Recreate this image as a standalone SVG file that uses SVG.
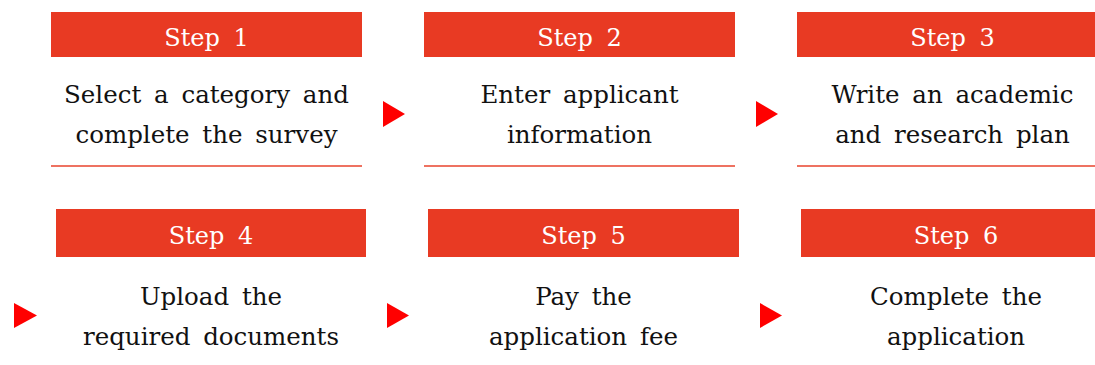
<svg xmlns="http://www.w3.org/2000/svg" width="1095" height="365" viewBox="0 0 1095 365">
<style>
.hd{fill:#E83A23}
.ln{stroke:#E8432C;stroke-width:1.5}
.ht{font-family:"DejaVu Serif",serif;font-size:24px;fill:#fff;text-anchor:middle;word-spacing:6px}
.bt{font-family:"DejaVu Serif",serif;font-size:24.5px;fill:#111;text-anchor:middle;word-spacing:5px}
.ar{fill:#FF0000}
</style>
<rect width="1095" height="365" fill="#fff"/>
<g id="step1">
<rect class="hd" x="51" y="12" width="311" height="45"/>
<text class="ht" x="206.5" y="46">Step 1</text>
<text class="bt" x="206.5" y="103">Select a category and</text>
<text class="bt" x="206.5" y="143">complete the survey</text>
<line class="ln" x1="51" y1="166" x2="362" y2="166"/>
</g>
<g id="step2">
<rect class="hd" x="424" y="12" width="311" height="45"/>
<text class="ht" x="579.5" y="46">Step 2</text>
<text class="bt" x="579.5" y="103">Enter applicant</text>
<text class="bt" x="579.5" y="143">information</text>
<line class="ln" x1="424" y1="166" x2="735" y2="166"/>
</g>
<g id="step3">
<rect class="hd" x="797" y="12" width="311" height="45"/>
<text class="ht" x="952.5" y="46">Step 3</text>
<text class="bt" x="952.5" y="103">Write an academic</text>
<text class="bt" x="952.5" y="143">and research plan</text>
<line class="ln" x1="797" y1="166" x2="1108" y2="166"/>
</g>
<g id="step4">
<rect class="hd" x="56" y="209" width="310" height="48"/>
<text class="ht" x="211" y="244">Step 4</text>
<text class="bt" x="211" y="305">Upload the</text>
<text class="bt" x="211" y="345">required documents</text>
</g>
<g id="step5">
<rect class="hd" x="428" y="209" width="311" height="48"/>
<text class="ht" x="583.5" y="244">Step 5</text>
<text class="bt" x="583.5" y="305">Pay the</text>
<text class="bt" x="583.5" y="345">application fee</text>
</g>
<g id="step6">
<rect class="hd" x="801" y="209" width="311" height="48"/>
<text class="ht" x="956" y="244">Step 6</text>
<text class="bt" x="956" y="305">Complete the</text>
<text class="bt" x="956" y="345">application</text>
</g>
<g id="connectors">
<polygon class="ar" points="383,101 405,114 383,127"/>
<polygon class="ar" points="756,101 778,114 756,127"/>
<polygon class="ar" points="14,303 37,315.5 14,328"/>
<polygon class="ar" points="387,303 409,315.5 387,328"/>
<polygon class="ar" points="760,303 782,315.5 760,328"/>
</g>
</svg>
